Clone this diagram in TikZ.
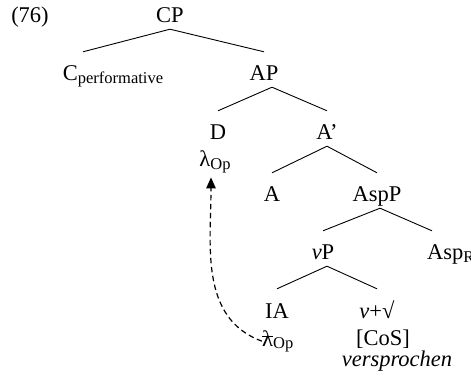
\documentclass[tikz,border=0pt]{standalone}
\usepackage{fontspec}
\setmainfont{Liberation Serif}
\usetikzlibrary{arrows.meta}

% small lowered index, as in C_performative
\newcommand{\lsub}[1]{\raisebox{-0.12em}{\fontsize{16.5}{18}\selectfont #1}}
% struck-through copy of the operator
\newsavebox{\strikebox}
\newcommand{\struck}[1]{\sbox{\strikebox}{#1}\rlap{\usebox{\strikebox}}\rule[0.38em]{\wd\strikebox}{0.06em}}

\tikzset{
  cat/.style={anchor=base, inner sep=0pt, text height=29pt, text depth=6pt},
  lbl/.style={anchor=base, inner sep=0pt},
  branch/.style={line width=0.9pt},
  move/.style={line width=1.2pt, dash pattern=on 5.5pt off 3.5pt,
    -{Triangle[width=9.5pt,length=11pt]}}
}

\begin{document}
\begin{tikzpicture}[x=1pt,y=1pt,font=\fontsize{22.5}{27}\selectfont]
\useasboundingbox (0,0) rectangle (471,383);

\node[lbl] (ex) at (30,360) {(76)};
\node[cat] (cp) at (170,360) {CP};
\node[cat] (cperf) at (113,302) {C\lsub{performative}};
\node[cat] (ap) at (264,302) {AP};
\node[cat] (d) at (218,243) {D};
\node[lbl] (dop) at (215,216) {λ\lsub{Op}};
\node[cat] (abar) at (327,243) {A’};
\node[cat] (a) at (272,181) {A};
\node[cat] (aspp) at (377,181) {AspP};
\node[cat] (vp) at (323,123) {\textit{v}P};
\node[cat,anchor=base west] (aspr) at (427,123) {Asp\lsub{R}};
\node[cat] (ia) at (277,65) {IA};
\node[lbl,anchor=base west] (iaop) at (262,37) {\struck{λ}\lsub{Op}};
\node[cat] (vroot) at (377,65) {\textit{v}+√};
\node[lbl] (cos) at (383,38) {[CoS]};
\node[lbl] (verb) at (397,17) {\textit{versprochen}};

% branches
\draw[branch] (cp.south) -- ([xshift=-30pt]cperf.north);
\draw[branch] (cp.south) -- (ap.north);
\draw[branch] ([xshift=8pt]ap.south) -- (d.north);
\draw[branch] ([xshift=8pt]ap.south) -- (abar.north);
\draw[branch] (abar.south) -- (a.north);
\draw[branch] (abar.south) -- (aspp.north);
\draw[branch] ([xshift=3pt]aspp.south) -- (vp.north);
\draw[branch] ([xshift=3pt]aspp.south) -- ([xshift=5pt]aspr.north west);
\draw[branch] ([xshift=4pt]vp.south) -- (ia.north);
\draw[branch] ([xshift=4pt]vp.south) -- (vroot.north);

% movement of the operator
\draw[move] (iaop.west) to[out=160,in=-90] ([shift={(-4pt,-4pt)}]dop.south);
% \draw[move] (iaop.west) .. controls (220,60) .. (dop.south);
\end{tikzpicture}
\end{document}
